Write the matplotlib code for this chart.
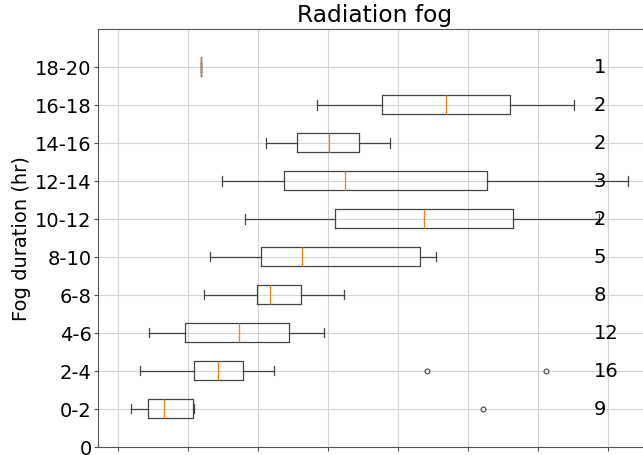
import matplotlib
matplotlib.use("Agg")
import matplotlib.pyplot as plt

plt.rcParams['font.family'] = ['DejaVu Sans']
plt.rcParams['font.size'] = 14

# Fog-duration classes (y axis) and number of events in each class
duration_labels = ['0', '0-2', '2-4', '4-6', '6-8', '8-10', '10-12',
                   '12-14', '14-16', '16-18', '18-20']
counts = [9, 16, 12, 8, 5, 2, 3, 2, 2, 1]

# Box statistics per class (0-2 ... 18-20)
whisker_low = [0.18, 0.32, 0.44, 1.23, 1.31, 1.82, 1.49, 2.12, 2.85, 1.19]
q1 = [0.43, 1.08, 0.95, 1.99, 2.05, 3.10, 2.37, 2.56, 3.77, 1.19]
median = [0.66, 1.43, 1.73, 2.17, 2.63, 4.37, 3.24, 3.01, 4.68, 1.19]
q3 = [1.07, 1.79, 2.44, 2.62, 4.31, 5.64, 5.27, 3.45, 5.60, 1.19]
whisker_high = [1.09, 2.23, 2.94, 3.23, 4.55, 6.87, 7.28, 3.89, 6.51, 1.19]
outliers = [[5.21], [4.42, 6.11], [], [], [], [], [], [], [], []]

W, H = 643, 456
fig = plt.figure(figsize=(W / 100, H / 100), dpi=100)
ax = fig.add_axes([98 / W, (H - 447.5) / H, (652 - 98) / W, (447.5 - 30) / H])

stats = []
for i in range(len(counts)):
    stats.append(dict(whislo=whisker_low[i], q1=q1[i], med=median[i],
                      q3=q3[i], whishi=whisker_high[i], fliers=outliers[i]))

line_kw = dict(color='#444444', linewidth=0.9)
ax.bxp(stats, positions=range(1, len(counts) + 1), vert=False, widths=0.5,
       boxprops=line_kw, whiskerprops=line_kw, capprops=line_kw,
       medianprops=dict(color='#ff7f0e', linewidth=0.9),
       flierprops=dict(marker='o', markersize=3.5, markerfacecolor='none',
                       markeredgecolor='#444444', markeredgewidth=0.8))

for pos, n in enumerate(counts, start=1):
    ax.text(6.8, pos, str(n), ha='left', va='center', fontsize=14)

ax.set_xlim(-0.286, 7.63)
ax.set_ylim(0, 11)
ax.set_xticks(range(0, 8))
ax.set_xticklabels([])
ax.set_yticks(range(len(duration_labels)))
ax.set_yticklabels(duration_labels)
ax.grid(True, color='#d4d4d4', linewidth=0.8)
ax.set_axisbelow(True)
for s in ax.spines.values():
    s.set_color('#555555')
ax.tick_params(colors='#555555', labelcolor='black', length=3, pad=1.5)

ax.set_ylabel('Fog duration (hr)', labelpad=3)
ax.set_title('Radiation fog', fontsize=16.8)

fig.savefig('out.png', dpi=100)
